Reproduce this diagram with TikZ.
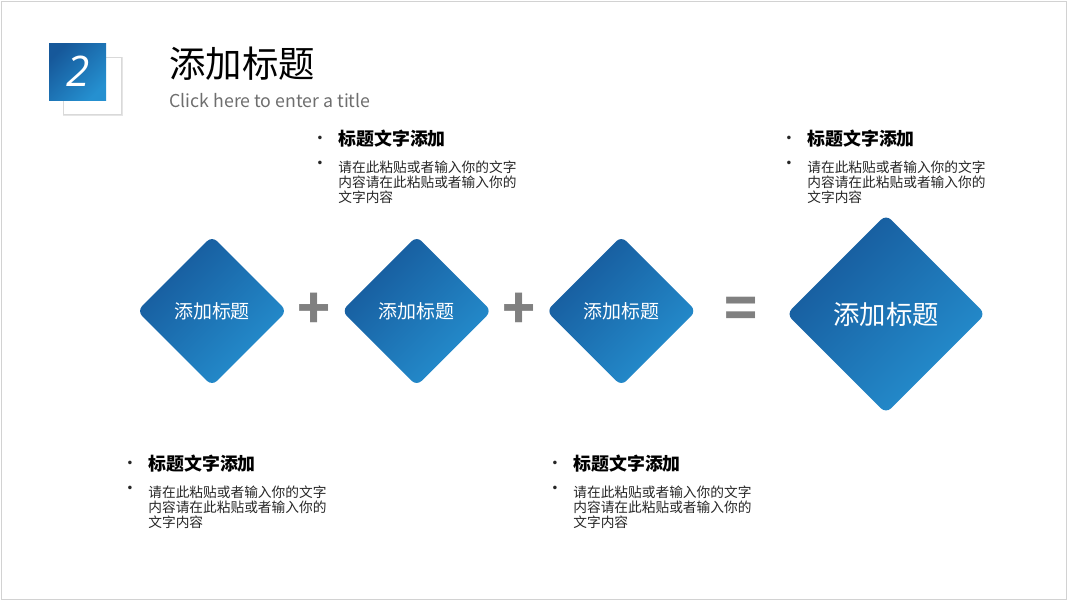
\documentclass[tikz,border=0pt]{standalone}
\usepackage{fontspec}
\setmainfont{Noto Sans CJK SC}
\newfontfamily\numfont{Open Sans}
\newfontfamily\dotfont{DejaVu Sans}
\usetikzlibrary{shapes.geometric,positioning,calc}

\definecolor{bluedark}{HTML}{16589A}
\definecolor{bluelight}{HTML}{2590D0}
\definecolor{textgray}{HTML}{262626}
\definecolor{subgray}{HTML}{6E6E6E}
\definecolor{signgray}{HTML}{808080}

\begin{document}
\begin{tikzpicture}[
    x=0.02cm, y=-0.02cm,
    gem/.style={diamond, aspect=1, inner sep=0pt, minimum width=3.0cm, minimum height=3.0cm, rounded corners=4pt,
        top color=bluedark, bottom color=bluelight, shading angle=45, text=white,
        font=\fontsize{10.8}{12}\selectfont},
    sign/.style={text=signgray, font=\fontsize{31}{31}\bfseries\selectfont, inner sep=0pt},
    head/.style={anchor=west, inner sep=0pt, text=black, font=\fontsize{10.2}{12}\bfseries\selectfont},
    body/.style={align=left, inner sep=0pt, text=textgray, font=\fontsize{7.8}{8.5}\selectfont},
    dot/.style={inner sep=0pt, text=textgray, font=\fontsize{7}{8}\dotfont}
]
    \useasboundingbox (0,0) rectangle (1067,600);
    \draw[gray!35] (1,1) rectangle (1066,599);

    % Number badge
    \draw[gray!20, line width=1.5pt] (64,58) rectangle (122,115);
    \draw[gray!30, fill=white] (63,57) rectangle (121,114);
    \shade[top color=bluedark, bottom color=bluelight, shading angle=45] (49,43) rectangle (106,100);
    \node[text=white, font=\fontsize{24}{24}\numfont\itshape] (num) at (78,71) {2};

    % Title
    \node[anchor=west, inner sep=0pt, font=\fontsize{20.7}{22}\selectfont] (title) at (169,64) {添加标题};
    \node[anchor=west, inner sep=0pt, text=subgray, font=\fontsize{10.1}{12}\selectfont] (subtitle) at (169,101) {Click here to enter a title};

    % Diamonds
    \node[gem] (d1) at (212,311) {添加标题};
    \node[gem, right=1.08cm of d1] (d2) {添加标题};
    \node[gem, right=1.08cm of d2] (d3) {添加标题};
    \node[gem, minimum width=3.98cm, minimum height=3.98cm, font=\fontsize{15}{17}\selectfont] (d4) at (886,314) {添加标题};

    % Signs
    \node[sign] (plus1) at ($(d1.east)!0.5!(d2.west)$) {+};
    \node[sign] (plus2) at ($(d2.east)!0.5!(d3.west)$) {+};
    \node[sign] (equal) at ($(d3.east)!0.5!(d4.west)$) {=};

    % Texts
    \node[head] (h1) at (338,139) {标题文字添加};
    \node[head] (h2) at (807,139) {标题文字添加};
    \node[head] (h3) at (148,464) {标题文字添加};
    \node[head] (h4) at (573,464) {标题文字添加};

    \foreach \h in {1,2,3,4}{
        \node[body, below right=7pt and 0pt of h\h.south west] (b\h)
            {请在此粘贴或者输入你的文字\\内容请在此粘贴或者输入你的\\文字内容};
        \node[dot, left=8pt of h\h] {•};
        \node[dot, below left=0.5pt and 8pt of b\h.north west] {•};
    }
\end{tikzpicture}
\end{document}
